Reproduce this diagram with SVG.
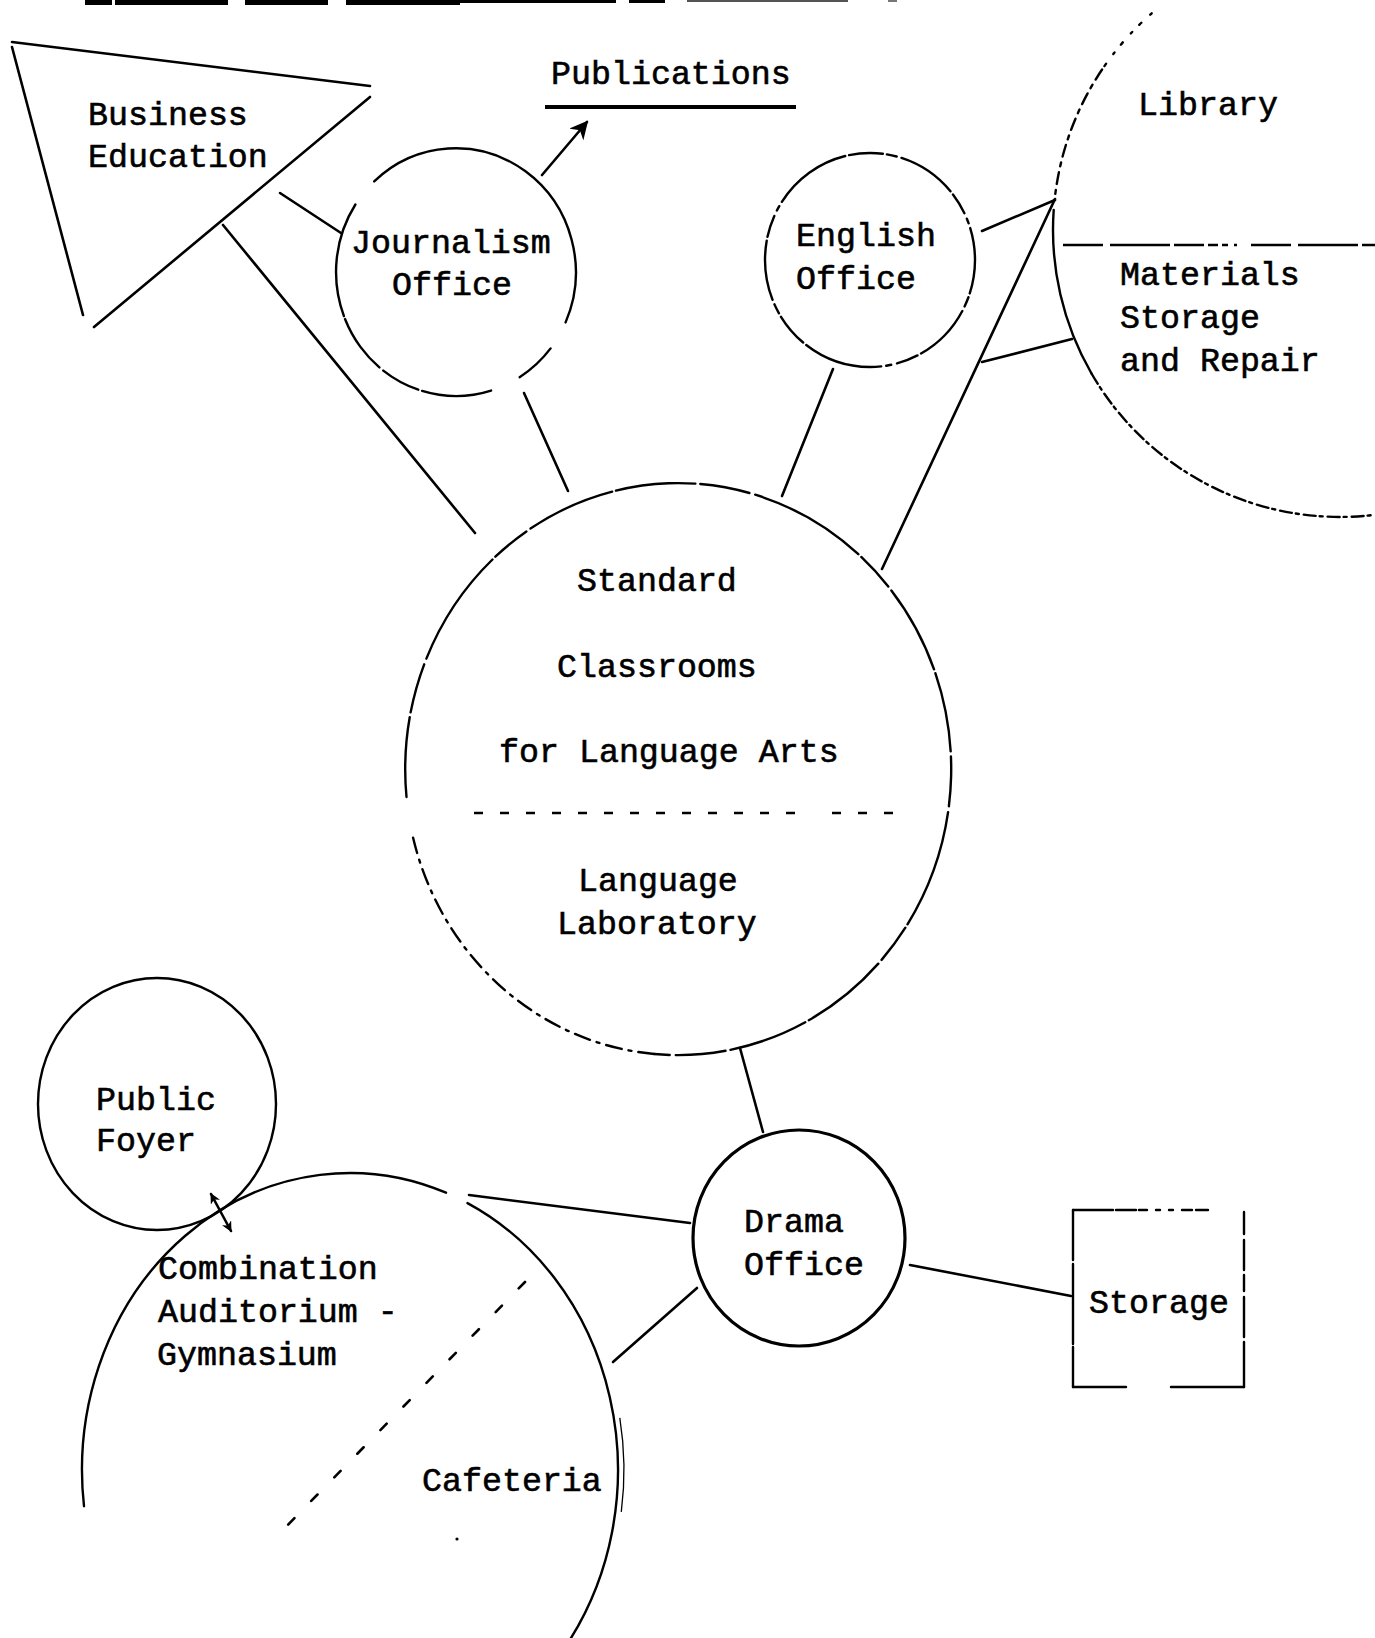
<svg xmlns="http://www.w3.org/2000/svg" width="1375" height="1638" viewBox="0 0 1375 1638">
  <style>
    .lbl { font-family: "Liberation Mono", "DejaVu Sans Mono", monospace; font-size: 33.3px; fill: #000; stroke: #000; stroke-width: 0.6; }
    .ln { fill: none; stroke: #000; stroke-width: 2.6; stroke-linecap: round; }
    .room { fill: none; stroke: #000; stroke-width: 2.4; stroke-linecap: round; }
    .thin { fill: none; stroke: #000; stroke-width: 1.3; }
    .div { fill: none; stroke: #000; stroke-width: 2.4; }
  </style>
  <defs>
    <marker id="head" viewBox="0 0 10 10" refX="9" refY="5" markerWidth="7" markerHeight="7" orient="auto-start-reverse" markerUnits="strokeWidth">
      <path d="M0,0 L10,5 L0,10 L3,5 z" fill="#000"/>
    </marker>
    <marker id="headSmall" viewBox="0 0 10 10" refX="9" refY="5" markerWidth="4" markerHeight="4" orient="auto-start-reverse" markerUnits="strokeWidth">
      <path d="M0,0 L10,5 L0,10 L3,5 z" fill="#000"/>
    </marker>
  </defs>

  <rect x="0" y="0" width="1375" height="1638" fill="#fff"/>

  <!-- underline fragments of the heading above the page edge -->
  <g id="heading-rule" fill="#000">
    <rect x="85" y="0" width="27" height="5"/>
    <rect x="115" y="0" width="113" height="5"/>
    <rect x="245" y="0" width="83" height="5"/>
    <rect x="346" y="0" width="114" height="5"/>
    <rect x="460" y="0" width="156" height="3"/>
    <rect x="629" y="0" width="36" height="3"/>
    <rect x="687" y="0" width="161" height="2" fill="#555"/>
    <rect x="888" y="0" width="9" height="2" fill="#777"/>
  </g>

  <!-- Business Education -->
  <g id="business-education">
    <path class="ln" d="M12,42 L370,86 M370,97 L94,327 M12,47 L83,315"/>
    <text class="lbl" x="88" y="125">Business</text>
    <text class="lbl" x="88" y="167">Education</text>
  </g>

  <!-- Publications -->
  <g id="publications">
    <text class="lbl" x="551" y="84">Publications</text>
    <line x1="545" y1="107" x2="796" y2="107" stroke="#000" stroke-width="4"/>
  </g>

  <!-- Journalism Office -->
  <g id="journalism-office">
    <path class="room" d="M374.2,181.4 A120,124 0 0 1 565.6,322.4"/>
    <path class="room" d="M550.6,348.4 A120,124 0 0 1 519.6,377.2"/>
    <path class="room" d="M491.1,390.6 A120,124 0 0 1 355.4,204.5" stroke-dasharray="70 4 40 5 60 3 200"/>
    <text class="lbl" x="351" y="253">Journalism</text>
    <text class="lbl" x="392" y="295">Office</text>
  </g>

  <!-- English Office -->
  <g id="english-office">
    <ellipse class="room" cx="870" cy="260" rx="105" ry="107" stroke-dasharray="34 4 10 5 60 4 22 6 5 5 80 4"/>
    <text class="lbl" x="796" y="246">English</text>
    <text class="lbl" x="796" y="289">Office</text>
  </g>

  <!-- Library / Materials Storage and Repair -->
  <g id="library">
    <path class="room" d="M1151.7,13.3 A287,287 0 0 0 1102.1,69.5" stroke-dasharray="2 12 3 10"/>
    <path class="room" d="M1102.1,69.5 A287,287 0 0 0 1054.6,200" stroke-dasharray="12 6 4 6"/>
    <path class="room" d="M1053.7,210 A287,287 0 0 0 1091.5,373.5"/>
    <path class="room" d="M1091.5,373.5 A287,287 0 0 0 1375,514.8" stroke-dasharray="12 4 3 5"/>
    <line class="div" x1="1063" y1="245" x2="1375" y2="245" stroke-dasharray="40 7 60 4 30 4 10 4 6 6 3 14"/>
    <text class="lbl" x="1138" y="115">Library</text>
    <text class="lbl" x="1120" y="285">Materials</text>
    <text class="lbl" x="1120" y="328">Storage</text>
    <text class="lbl" x="1120" y="371">and Repair</text>
  </g>

  <!-- Standard Classrooms / Language Laboratory -->
  <g id="standard-classrooms">
    <path class="room" d="M406.5,797 A273,286 0 1 1 654.2,1054" stroke-dasharray="80 5 50 6 120 4 40 5 90 4"/>
    <path class="room" d="M654.2,1054 A273,286 0 0 1 413.1,837.7" stroke-dasharray="16 7 3 7"/>
    <path class="div" d="M474,813 L812,813 M832,813 L895,813" stroke-dasharray="9 17"/>
    <text class="lbl" x="577" y="591">Standard</text>
    <text class="lbl" x="557" y="677">Classrooms</text>
    <text class="lbl" x="499" y="762">for Language Arts</text>
    <text class="lbl" x="578" y="891">Language</text>
    <text class="lbl" x="557" y="934">Laboratory</text>
  </g>

  <!-- Public Foyer -->
  <g id="public-foyer">
    <ellipse class="room" cx="157" cy="1104" rx="119" ry="126"/>
    <text class="lbl" x="96" y="1110">Public</text>
    <text class="lbl" x="96" y="1151">Foyer</text>
  </g>

  <!-- Combination Auditorium - Gymnasium / Cafeteria -->
  <g id="auditorium-gymnasium">
    <path class="room" d="M84,1506.2 A268,297 0 0 1 446,1192.7"/>
    <path class="room" d="M467.5,1203.1 A268,297 0 0 1 567.9,1642.9" stroke-width="3"/>
    <path class="thin" d="M619.8,1417.9 A274,300 0 0 1 621.3,1511.8"/>
    <line class="ln" x1="525" y1="1282" x2="277" y2="1536" stroke-width="2.4" stroke-dasharray="9 24"/>
    <circle cx="457" cy="1539" r="1.6" fill="#000"/>
    <text class="lbl" x="158" y="1279">Combination</text>
    <text class="lbl" x="158" y="1322">Auditorium -</text>
    <text class="lbl" x="157" y="1365">Gymnasium</text>
    <text class="lbl" x="422" y="1491">Cafeteria</text>
  </g>

  <!-- Drama Office -->
  <g id="drama-office">
    <ellipse cx="799" cy="1238" rx="106" ry="108" fill="none" stroke="#000" stroke-width="3.2"/>
    <text class="lbl" x="744" y="1232">Drama</text>
    <text class="lbl" x="744" y="1275">Office</text>
  </g>

  <!-- Storage -->
  <g id="storage">
    <path class="room" d="M1073,1210 L1244,1210" stroke-dasharray="40 3 20 3 8 9 4 9 4 9 10 4 12"/>
    <path class="room" d="M1244,1212 L1244,1387" stroke-dasharray="22 6 30 5 16 6 40 5 60"/>
    <path class="room" d="M1073,1387 L1126,1387 M1171,1387 L1244,1387"/>
    <path class="room" d="M1073,1210 L1073,1387" stroke-dasharray="50 4 80 3 60"/>
    <text class="lbl" x="1089" y="1313">Storage</text>
  </g>

  <!-- connectors -->
  <g id="connectors">
    <line class="ln" x1="280" y1="193" x2="341" y2="233"/>
    <line class="ln" x1="223" y1="225" x2="475" y2="533"/>
    <line class="ln" x1="524" y1="393" x2="568" y2="491"/>
    <line class="ln" x1="542" y1="175" x2="587" y2="122" marker-end="url(#head)"/>
    <line class="ln" x1="982" y1="231" x2="1055" y2="200"/>
    <line class="ln" x1="833" y1="369" x2="782" y2="496"/>
    <line class="ln" x1="1055" y1="199" x2="882" y2="569"/>
    <line class="ln" x1="982" y1="362" x2="1072" y2="339"/>
    <line class="ln" x1="740" y1="1048" x2="763" y2="1132"/>
    <line class="ln" x1="690" y1="1223" x2="469" y2="1195"/>
    <line class="ln" x1="697" y1="1288" x2="613" y2="1362"/>
    <line class="ln" x1="910" y1="1265" x2="1071" y2="1296"/>
    <line class="ln" x1="211" y1="1194" x2="231" y2="1231" stroke-width="4" marker-start="url(#headSmall)" marker-end="url(#headSmall)"/>
  </g>
</svg>
